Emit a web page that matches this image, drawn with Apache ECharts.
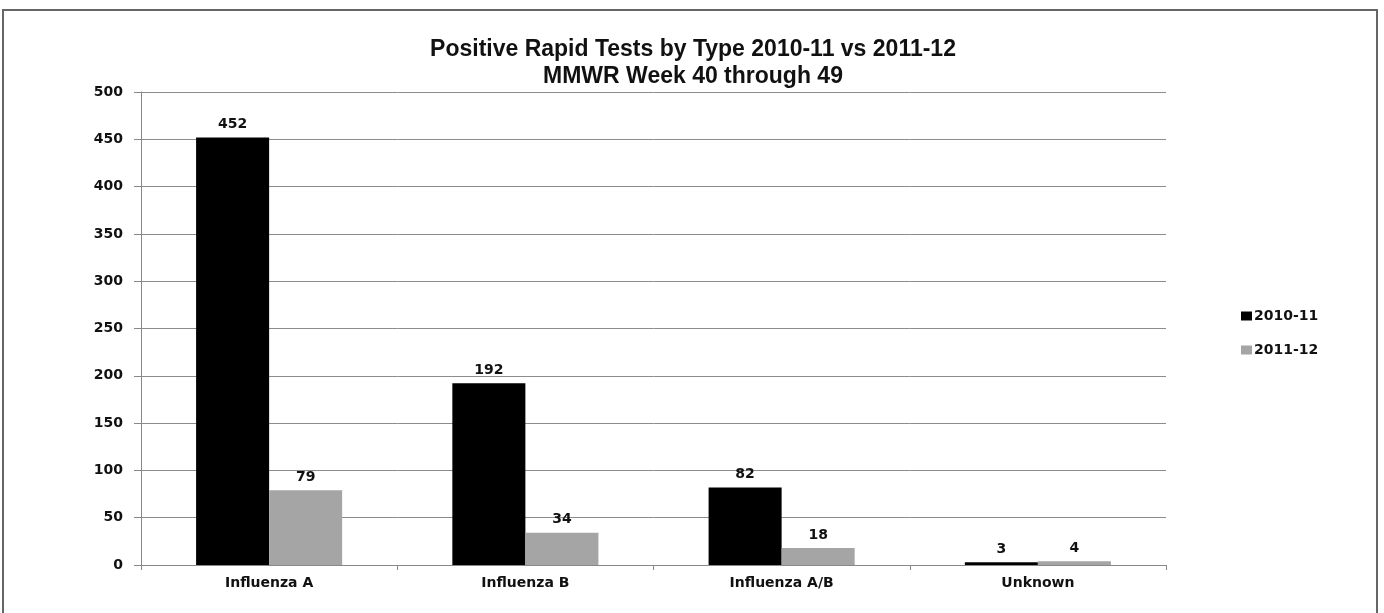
<!DOCTYPE html>
<html><head><meta charset="utf-8">
<script src="https://cdn.jsdelivr.net/npm/echarts@6/dist/echarts.min.js"></script>
<style>html,body{margin:0;padding:0;background:#fff}#c{width:1384px;height:613px}</style>
</head><body><div id="c"></div>
<script>
const categories = ['Influenza A', 'Influenza B', 'Influenza A/B', 'Unknown'];
const seriesNames = ['2010-11', '2011-12'];
const values2010 = [452, 192, 82, 3];
const values2011 = [79, 34, 18, 4];
const titleLines = ['Positive Rapid Tests by Type 2010-11 vs 2011-12', 'MMWR Week 40 through 49'];

const chart = echarts.init(document.getElementById('c'));
const lblFont = {fontFamily: 'DejaVu Sans', fontSize: 14, fontWeight: 'bold', color: '#111'};
chart.setOption({
  animation: false,
  backgroundColor: '#fff',
  graphic: [{
    type: 'rect', shape: {x: 3, y: 10, width: 1374, height: 620},
    style: {fill: 'none', stroke: '#666', lineWidth: 2}, silent: true, z: -1
  }],
  title: {
    text: titleLines.join('\n'), left: 688, top: 31, textAlign: 'center',
    textStyle: {fontFamily: 'Liberation Sans', fontSize: 23, fontWeight: 'bold', color: '#111', lineHeight: 27}
  },
  legend: {
    orient: 'vertical', left: 1236, top: 304, itemGap: 20,
    itemWidth: 11, itemHeight: 9, icon: 'rect',
    textStyle: Object.assign({}, lblFont, {padding: [0, 0, 0, -3]}),
    data: seriesNames
  },
  grid: {left: 141, right: 218, top: 92, bottom: 48, containLabel: false},
  xAxis: {
    type: 'category', data: categories,
    axisLine: {lineStyle: {color: '#888', width: 1}},
    axisTick: {show: true, length: 5, alignWithLabel: false, lineStyle: {color: '#888'}},
    axisLabel: Object.assign({}, lblFont, {margin: 11})
  },
  yAxis: {
    type: 'value', min: 0, max: 500, interval: 50,
    axisLine: {show: true, lineStyle: {color: '#888'}},
    axisTick: {show: true, length: 7, lineStyle: {color: '#888'}},
    splitLine: {lineStyle: {color: '#8c8c8c', width: 1}},
    axisLabel: Object.assign({}, lblFont, {margin: 18})
  },
  series: [
    {name: seriesNames[0], type: 'bar', data: values2010, barGap: '0%', barCategoryGap: '43%',
     itemStyle: {color: '#000'},
     label: Object.assign({show: true, position: 'top', distance: 6}, lblFont)},
    {name: seriesNames[1], type: 'bar', data: values2011, barGap: '0%', barCategoryGap: '43%',
     itemStyle: {color: '#a5a5a5'},
     label: Object.assign({show: true, position: 'top', distance: 6}, lblFont)}
  ]
});
</script></body></html>
